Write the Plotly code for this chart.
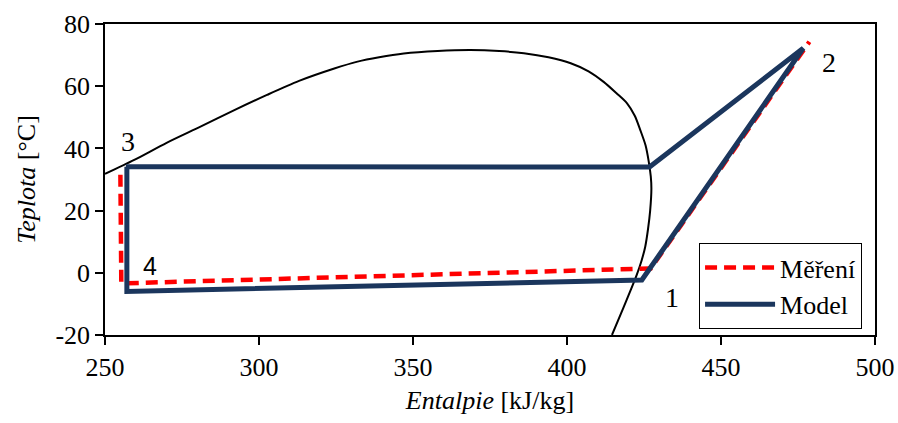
import plotly.graph_objects as go

# Saturation dome (black)
dome_h = [250, 259.5, 270, 281, 292, 302.6, 313, 324.2, 332, 339, 347, 358, 368.6, 378, 386, 394, 401.2, 407, 411.9, 416, 419.5, 422, 423.8, 425.5, 426.5, 427.2, 427.4, 427.0, 426.3, 425.4, 424.2, 422.7, 420.7, 418.4, 414.6]
dome_t = [31.8, 36.3, 41.8, 47, 52.3, 57.2, 61.7, 65.6, 67.9, 69.3, 70.5, 71.3, 71.6, 71.3, 70.6, 69.3, 67.4, 64.8, 61.4, 57.8, 54.5, 50.5, 45.9, 41, 36, 31, 27, 20, 14, 8.4, 3.9, -0.5, -5.5, -11, -20]

# Measurement (Měření)
meas_h = [255.0, 255.3, 427.2, 478.7]
meas_t = [31.5, -3.4, 1.4, 74.3]

# Model
model_h = [256.8, 426.8, 476.7, 424.3, 257.1, 257.1]
model_t = [34.1, 34.0, 72.2, -2.3, -6.0, 34.1]

labels = ["3", "2", "1", "4"]

y_ticks = [-20, 0, 20, 40, 60, 80]
y_ticktext = ["-20", "0", "20", "40", "60", "80"]

fig = go.Figure()
fig.add_trace(go.Scatter(x=dome_h, y=dome_t, mode="lines", showlegend=False,
                         line=dict(color="black", width=2, shape="spline", smoothing=0.8),
                         hoverinfo="skip"))
fig.add_trace(go.Scatter(x=meas_h, y=meas_t, mode="lines", name="Měření",
                         line=dict(color="#FF0000", width=4.5, dash="12px,7px")))
fig.add_trace(go.Scatter(x=model_h, y=model_t, mode="lines", name="Model",
                         line=dict(color="#1B365D", width=5)))

serif = "Liberation Serif"
ann_pos = [(257.6, 42.1, serif, 28), (485.1, 67.6, serif, 28), (434.1, -7.8, serif, 28), (264.7, 2.2, "Liberation Sans", 25)]
for lab, (ax_, ay_, fam, sz) in zip(labels, ann_pos):
    fig.add_annotation(x=ax_, y=ay_, text=lab, showarrow=False,
                       font=dict(family=fam, size=sz, color="black"))

fig.update_layout(
    width=898, height=423,
    margin=dict(l=105, r=23, t=24, b=88),
    paper_bgcolor="white", plot_bgcolor="white",
    font=dict(family=serif, size=26, color="black"),
    legend=dict(x=0.7715, y=0.2958, xanchor="left", yanchor="top",
                bordercolor="black", borderwidth=1, bgcolor="white",
                font=dict(family=serif, size=26, color="black"),
                itemwidth=70, tracegroupgap=0),
)
fig.update_xaxes(range=[250, 500], dtick=50, ticks="outside", ticklen=8, tickwidth=1.5,
                 tickcolor="black", showline=True, linecolor="black", linewidth=1.5,
                 mirror=True, showgrid=False, zeroline=False, automargin=False,
                 ticklabeloverflow="allow",
                 tickfont=dict(family=serif, size=26),
                 title=dict(text="<i>Entalpie</i> [kJ/kg]", standoff=10,
                            font=dict(family=serif, size=26)))
fig.update_yaxes(range=[-20, 80], tickvals=y_ticks, ticktext=y_ticktext,
                 ticks="outside", ticklen=8, tickwidth=1.5,
                 tickcolor="black", showline=True, linecolor="black", linewidth=1.5,
                 mirror=True, showgrid=False, zeroline=False, automargin=False,
                 tickfont=dict(family=serif, size=26),
                 title=dict(text="<i>Teplota</i> [°C]", standoff=12,
                            font=dict(family=serif, size=26)))

fig.write_html(
    "out.html",
    config={"displayModeBar": False},
    post_script="document.documentElement.style.margin='0';document.body.style.margin='0';"
                "document.documentElement.style.overflow='hidden';document.body.style.overflow='hidden';",
)
